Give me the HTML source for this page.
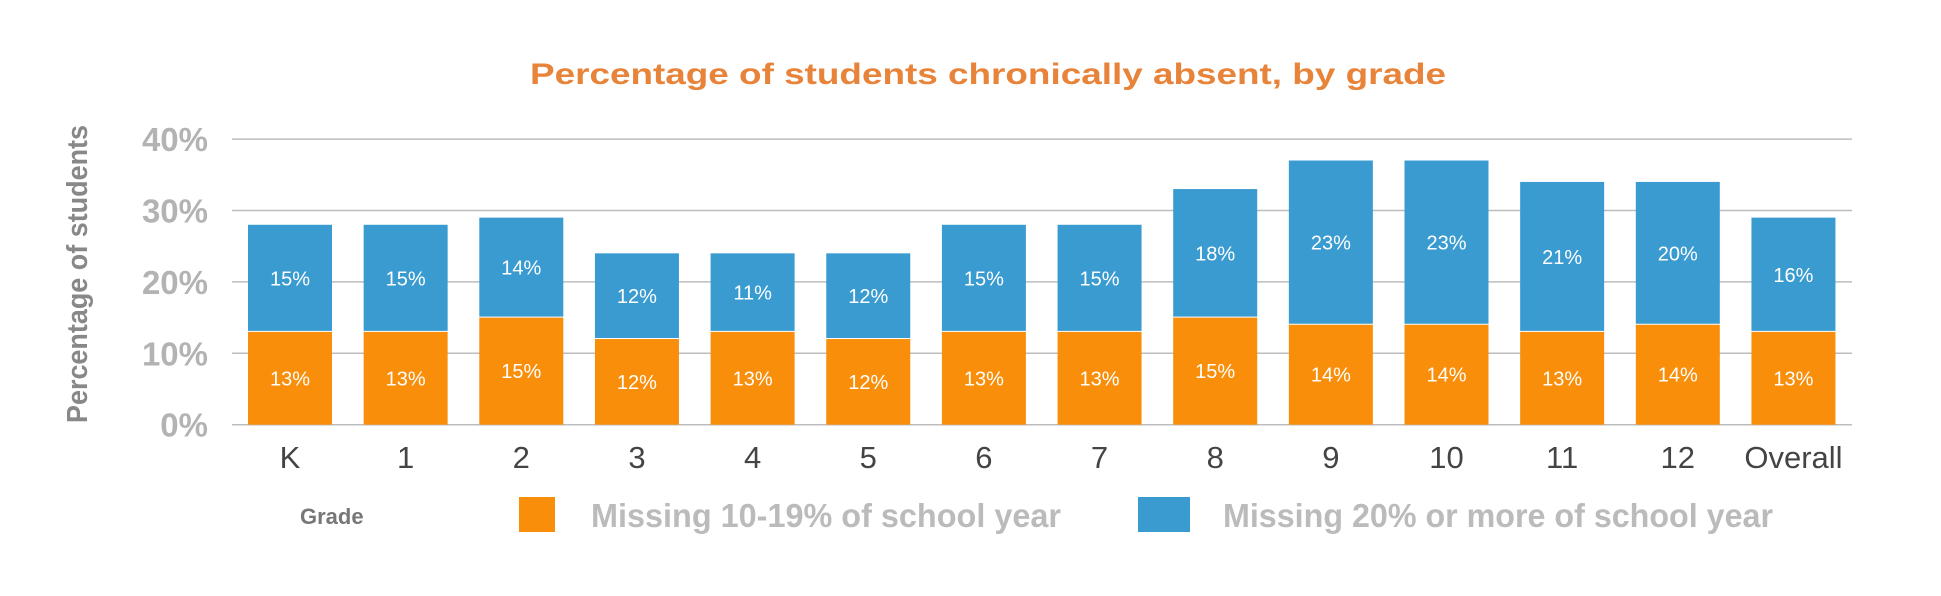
<!DOCTYPE html>
<html><head><meta charset="utf-8"><style>
body{margin:0;background:#fff;width:1941px;height:596px;overflow:hidden;font-family:"Liberation Sans",sans-serif}
svg{display:block}
</style></head><body>
<svg id="chart" width="1941" height="596" xmlns="http://www.w3.org/2000/svg">
<text x="988" y="84" text-anchor="middle" font-family="Liberation Sans, sans-serif" font-weight="bold" font-size="30" fill="#E8833A" textLength="916" lengthAdjust="spacingAndGlyphs">Percentage of students chronically absent, by grade</text>
<text transform="translate(87,274) rotate(-90)" text-anchor="middle" font-weight="bold" font-size="29" fill="#888" textLength="298" lengthAdjust="spacingAndGlyphs">Percentage of students</text>
<g id="grid"></g><g id="bars"></g><g id="xlabels"></g>
<text x="300" y="524" font-weight="bold" font-size="22" fill="#777">Grade</text>
<rect x="519" y="497" width="36" height="35" fill="#F98E0A"/>
<text x="591" y="527" font-weight="bold" font-size="33" fill="#BBB" textLength="470" lengthAdjust="spacingAndGlyphs">Missing 10-19% of school year</text>
<rect x="1138" y="497" width="52" height="35" fill="#3A9BD0"/>
<text x="1223" y="527" font-weight="bold" font-size="33" fill="#BBB" textLength="550" lengthAdjust="spacingAndGlyphs">Missing 20% or more of school year</text>
</svg>
<script>
const categories=["K","1","2","3","4","5","6","7","8","9","10","11","12","Overall"];
const missing10to19=[13,13,15,12,13,12,13,13,15,14,14,13,14,13];
const missing20plus=[15,15,14,12,11,12,15,15,18,23,23,21,20,16];
const yTicks=[0,10,20,30,40];
const NS="http://www.w3.org/2000/svg";
const y0=424.7,pxPer=7.14;
function yScale(v){return y0-v*pxPer;}
function xCenter(i){return 290+i*115.65;}
const bw=84;
function mk(tag,attrs,parent,text){const e=document.createElementNS(NS,tag);for(const k in attrs)e.setAttribute(k,attrs[k]);if(text!==undefined)e.textContent=text;parent.appendChild(e);return e;}
const grid=document.getElementById('grid');
yTicks.forEach(t=>{
  const l=mk('line',{x1:232,x2:1852,y1:yScale(t),y2:yScale(t),stroke:'#BDBDBD','stroke-width':1.5},grid);
  
  
  const tx=mk('text',{x:208,y:yScale(t)+12,'text-anchor':'end','font-weight':'bold','font-size':33,fill:'#B3B3B3'},grid,t+'%');
  
  
});
const bars=document.getElementById('bars'),xl=document.getElementById('xlabels');
categories.forEach((c,i)=>{
  const cx=xCenter(i),a=missing10to19[i],b=missing20plus[i];
  const r1=mk('rect',{x:cx-bw/2,y:yScale(a),width:bw,height:y0-yScale(a),fill:'#F98E0A'},bars);
  
  
  const r2=mk('rect',{x:cx-bw/2,y:yScale(a+b),width:bw,height:yScale(a)-yScale(a+b)-1,fill:'#3A9BD0'},bars);
  
  
  const t1=mk('text',{x:cx,y:(y0+yScale(a))/2+7,'text-anchor':'middle','font-size':20,fill:'#fff'},bars,a+'%');
  
  
  const t2=mk('text',{x:cx,y:(yScale(a)+yScale(a+b))/2+7,'text-anchor':'middle','font-size':20,fill:'#fff'},bars,b+'%');
  
  
  const xt=mk('text',{x:cx,y:468,'text-anchor':'middle','font-size':31,fill:'#444'},xl,c);
  
  
});
</script>
</body></html>
